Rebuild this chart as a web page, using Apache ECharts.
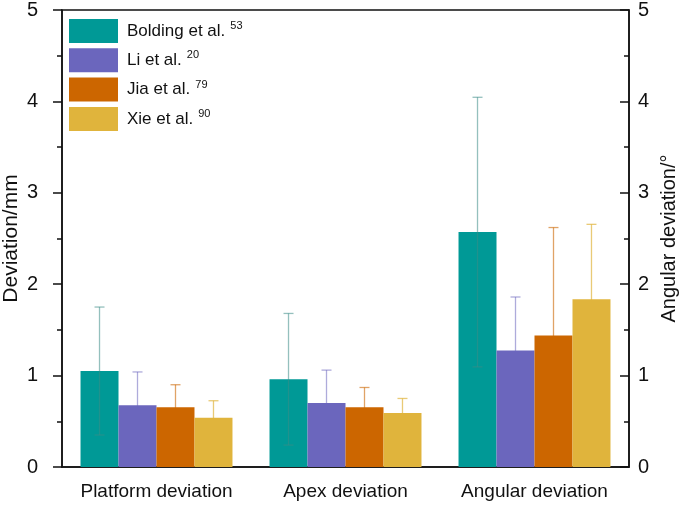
<!DOCTYPE html>
<html lang="en">
<head>
  <meta charset="UTF-8">
  <title>Deviation comparison</title>
  <script src="https://cdn.jsdelivr.net/npm/echarts@6/dist/echarts.min.js"></script>
</head>
<body style="margin:0">
  <div id="main" style="width:685px;height:508px;background:#fff;"></div>
</body>
</html>
<script>
  const categories = ['Platform deviation', 'Apex deviation', 'Angular deviation'];
  const seriesNames = ['Bolding et al.', 'Li et al.', 'Jia et al.', 'Xie et al.'];
  const refNums = ['53', '20', '79', '90'];
  const bolding = [1.05, 0.96, 2.57];
  const li = [0.675, 0.70, 1.275];
  const jia = [0.655, 0.655, 1.44];
  const xie = [0.54, 0.59, 1.835];
  const boldingSd = [0.70, 0.72, 1.475];
  const liSd = [0.365, 0.36, 0.585];
  const jiaSd = [0.245, 0.215, 1.18];
  const xieSd = [0.185, 0.16, 0.82];
  const yTicks = [0, 1, 2, 3, 4, 5];

  const colors = ['#009996', '#6b66bd', '#cc6600', '#e0b43c'];
  const errColors = ['rgba(60,140,135,0.55)', 'rgba(107,102,189,0.55)', 'rgba(204,102,0,0.6)', 'rgba(224,180,60,0.7)'];
  const means = [bolding, li, jia, xie];
  const sds = [boldingSd, liSd, jiaSd, xieSd];
  const font = 'Liberation Sans';
  const gapRatio = 0.196;

  let seriesData = [];
  means.forEach((vals, i) => {
    seriesData.push({
      name: seriesNames[i],
      type: 'bar',
      data: vals,
      barGap: 0,
      barCategoryGap: (gapRatio * 100) + '%',
      z: 2,
      itemStyle: { color: colors[i] },
    });
  });

  // error bars: whisker + caps, offset to sit on each bar
  means.forEach((vals, i) => {
    seriesData.push({
      type: 'custom',
      z: i === 0 ? 3 : 1,
      silent: true,
      data: vals.map((v, k) => [k, v - sds[i][k], v + sds[i][k]]),
      renderItem: function (params, api) {
        let band = api.size([1, 0])[0];
        let bw = band * (1 - gapRatio) / 4;
        let off = (i - 1.5) * bw;
        let lo = api.coord([api.value(0), api.value(1)]);
        let hi = api.coord([api.value(0), api.value(2)]);
        let x = lo[0] + off;
        let cap = 5;
        let style = { stroke: errColors[i], lineWidth: 1.3, fill: null };
        return {
          type: 'group',
          children: [
            { type: 'line', shape: { x1: x, y1: lo[1], x2: x, y2: hi[1] }, style: style },
            { type: 'line', shape: { x1: x - cap, y1: hi[1], x2: x + cap, y2: hi[1] }, style: style },
            { type: 'line', shape: { x1: x - cap, y1: lo[1], x2: x + cap, y2: lo[1] }, style: style },
          ],
        };
      },
    });
  });

  let myChart = echarts.init(document.getElementById('main'));
  let axisLine = { lineStyle: { color: '#111', width: 1.5 } };
  let option = {
    animation: false,
    grid: {
      left: 62, right: 56, top: 10, bottom: 41,
      outerBoundsMode: 'none',
      show: true, borderColor: '#111', borderWidth: 1.5,
    },
    legend: {
      orient: 'vertical',
      left: 69,
      top: 19,
      padding: 0,
      itemWidth: 49,
      itemHeight: 24,
      itemGap: 5.3,
      icon: 'rect',
      data: seriesNames,
      formatter: function (name) {
        let idx = seriesNames.indexOf(name);
        return '{n|' + name + '}{s|' + refNums[idx] + '}';
      },
      textStyle: {
        padding: [0, 0, 0, 4],
        rich: {
          n: { fontFamily: font, fontSize: 17, color: '#111' },
          s: { fontFamily: font, fontSize: 11, color: '#111', padding: [0, 0, 10, 5] },
        },
      },
    },
    xAxis: [{
      type: 'category',
      data: categories,
      axisLine: axisLine,
      axisTick: { alignWithLabel: true, length: 9, lineStyle: { color: '#111', width: 1.5 } },
      axisLabel: { interval: 0, fontFamily: font, fontSize: 19, color: '#111', margin: 15 },
    }, {
      type: 'category',
      data: categories,
      position: 'bottom',
      axisLine: { show: false },
      axisTick: { length: 5, lineStyle: { color: '#111', width: 1.5 } },
      axisLabel: { show: false },
    }],
    yAxis: [{
      type: 'value',
      min: yTicks[0],
      max: yTicks[yTicks.length - 1],
      interval: 1,
      name: 'Deviation/mm',
      nameLocation: 'middle',
      nameGap: 40,
      nameRotate: 90,
      nameMoveOverlap: false,
      nameTextStyle: { fontFamily: font, fontSize: 21, color: '#111' },
      axisLine: { show: true, lineStyle: axisLine.lineStyle },
      axisTick: { show: true, length: 9, lineStyle: { color: '#111', width: 1.5 } },
      minorTick: { show: true, splitNumber: 2, length: 5, lineStyle: { color: '#111', width: 1.5 } },
      splitLine: { show: false },
      axisLabel: { fontFamily: font, fontSize: 20, color: '#111', margin: 24 },
    }, {
      type: 'value',
      position: 'right',
      min: yTicks[0],
      max: yTicks[yTicks.length - 1],
      interval: 1,
      name: 'Angular deviation/°',
      nameLocation: 'middle',
      nameGap: 30,
      nameRotate: 90,
      nameMoveOverlap: false,
      nameTextStyle: { fontFamily: font, fontSize: 20, color: '#111' },
      axisLine: { show: true, lineStyle: axisLine.lineStyle },
      axisTick: { show: true, inside: true, length: 9, lineStyle: { color: '#111', width: 1.5 } },
      minorTick: { show: true, splitNumber: 2, length: 5, lineStyle: { color: '#111', width: 1.5 } },
      splitLine: { show: false },
      axisLabel: { fontFamily: font, fontSize: 20, color: '#111', margin: 9 },
    }],
    series: seriesData,
  };
  myChart.setOption(option, true);
</script>
